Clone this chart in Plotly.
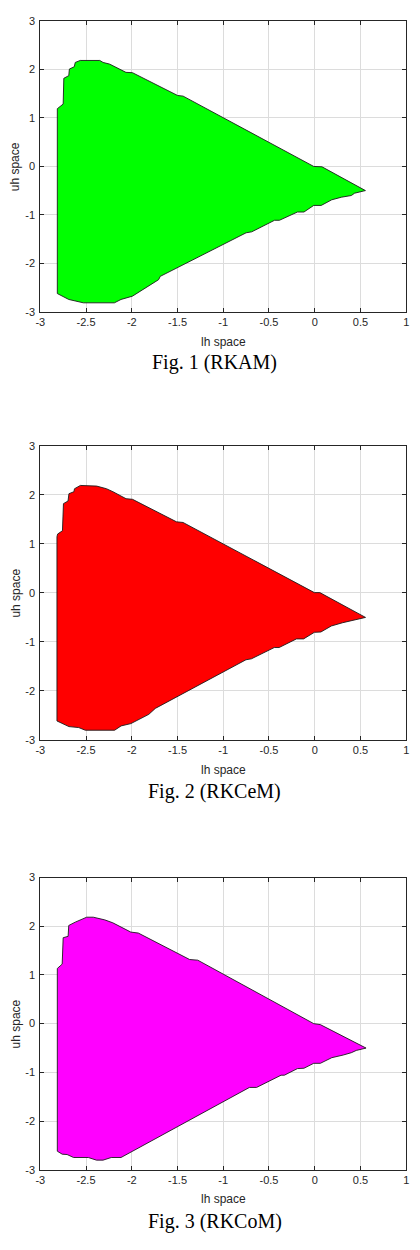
import plotly.graph_objects as go

# Region boundaries (lh, uh)
rkam_lh = [-2.814, -2.689, -2.529, -2.19, -2.118, -1.993, -1.707, -1.689, -0.75, -0.689, -0.439, -0.386,
           -0.189, -0.118, -0.011, 0.071, 0.186, 0.293, 0.4, 0.436, 0.554, 0.079, -0.011, -1.439, -1.5,
           -1.993, -2.064, -2.243, -2.314, -2.35, -2.564, -2.618, -2.629, -2.682, -2.689, -2.743, -2.75,
           -2.796, -2.814, -2.814]
rkam_uh = [-2.619, -2.741, -2.81, -2.81, -2.741, -2.673, -2.333, -2.265, -1.367, -1.347, -1.109, -1.109,
           -0.939, -0.939, -0.803, -0.803, -0.687, -0.633, -0.599, -0.551, -0.497, -0.007, 0.0, 1.449, 1.463,
           1.932, 1.939, 2.109, 2.143, 2.184, 2.184, 2.143, 2.054, 2.007, 1.871, 1.816, 1.286,
           1.204, 1.19, -2.619]

rkcem_lh = [-2.818, -2.687, -2.58, -2.508, -2.188, -2.117, -2.01, -1.814, -1.743, -0.752, -0.692, -0.442,
            -0.389, -0.2, -0.122, -0.004, 0.067, 0.181, 0.305, 0.394, 0.43, 0.555, 0.056, -0.004, -1.44,
            -1.511, -1.992, -2.063, -2.206, -2.277, -2.384, -2.562, -2.626, -2.633, -2.687, -2.697, -2.747,
            -2.758, -2.811, -2.818, -2.818]
rkcem_uh = [-2.614, -2.729, -2.749, -2.803, -2.803, -2.715, -2.668, -2.479, -2.358, -1.366, -1.346, -1.116,
            -1.116, -0.94, -0.94, -0.806, -0.799, -0.677, -0.61, -0.57, -0.543, -0.502, 0.004, 0.004, 1.435,
            1.448, 1.907, 1.92, 2.062, 2.123, 2.177, 2.19, 2.123, 2.062, 2.022, 1.873, 1.819,
            1.266, 1.198, 1.144, -2.614]

rkcom_lh = [-2.814, -2.761, -2.707, -2.636, -2.475, -2.386, -2.314, -2.225, -2.118, -0.714, -0.636, -0.368,
            -0.332, -0.189, -0.118, -0.011, 0.061, 0.186, 0.311, 0.4, 0.454, 0.561, 0.061, -0.011, -1.279,
            -1.368, -1.929, -2.011, -2.207, -2.296, -2.421, -2.493, -2.618, -2.689, -2.696, -2.75, -2.761,
            -2.807, -2.814, -2.814]
rkcom_uh = [-2.62, -2.681, -2.688, -2.749, -2.749, -2.803, -2.803, -2.749, -2.749, -1.31, -1.31, -1.059,
            -1.059, -0.923, -0.916, -0.815, -0.815, -0.699, -0.645, -0.597, -0.55, -0.502, -0.02, 0.0, 1.303,
            1.317, 1.86, 1.88, 2.07, 2.131, 2.186, 2.186, 2.084, 2.016, 1.792, 1.765, 1.222,
            1.154, 1.133, -2.62]

captions = ["Fig. 1 (RKAM)", "Fig. 2 (RKCeM)", "Fig. 3 (RKCoM)"]
fill_colors = ["#00ff00", "#ff0000", "#ff00ff"]
x_ticks = [-3, -2.5, -2, -1.5, -1, -0.5, 0, 0.5, 1]
x_tick_text = ["-3", "-2.5", "-2", "-1.5", "-1", "-0.5", "0", "0.5", "1"]
y_ticks = [-3, -2, -1, 0, 1, 2, 3]
y_tick_text = ["-3", "-2", "-1", "0", "1", "2", "3"]

series = [(rkam_lh, rkam_uh), (rkcem_lh, rkcem_uh), (rkcom_lh, rkcom_uh)]

W, H = 420, 1250
# pixel layout (top, bottom) for each axes
panels = [(15, 309), (444, 741), (880, 1175)]
cap_y = [360, 793, 1227]
xt_y = [339, 771, 1205]
x0, x1 = 36, 409

fig = go.Figure()
annotations = []
for i, ((lx, ly), col) in enumerate(zip(series, fill_colors)):
    n = "" if i == 0 else str(i + 1)
    fig.add_trace(go.Scatter(
        x=lx, y=ly, mode="lines", fill="toself", fillcolor=col,
        line=dict(color="#1b1b1b", width=0.9),
        xaxis="x" + n, yaxis="y" + n, showlegend=False, hoverinfo="skip"))
    top, bot = panels[i]
    axcommon = dict(showgrid=True, gridcolor="#dcdcdc", gridwidth=1, zeroline=False,
                    showline=True, linecolor="#262626", linewidth=1, mirror="ticks",
                    ticks="inside", ticklen=4, tickcolor="#262626",
                    tickfont=dict(family="Liberation Sans, Arial", size=11, color="#262626"))
    fig.layout["xaxis" + n] = dict(domain=[x0 / W, x1 / W], range=[-3, 1], anchor="y" + n,
                                   tickvals=x_ticks, ticktext=x_tick_text, **axcommon)
    fig.layout["yaxis" + n] = dict(domain=[1 - bot / H, 1 - top / H], range=[-3, 3], anchor="x" + n,
                                   tickvals=y_ticks, ticktext=y_tick_text, ticklabelstandoff=2, **axcommon)
    annotations.append(dict(text="lh space", x=(x0 + x1) / 2 / W, y=1 - xt_y[i] / H,
                            xref="paper", yref="paper", showarrow=False, xanchor="center", yanchor="middle",
                            font=dict(family="Liberation Sans, Arial", size=12, color="#262626")))
    annotations.append(dict(text="uh space", x=11 / W, y=1 - (top + bot) / 2 / H, textangle=-90,
                            xref="paper", yref="paper", showarrow=False, xanchor="center", yanchor="middle",
                            font=dict(family="Liberation Sans, Arial", size=12, color="#262626")))
    annotations.append(dict(text=captions[i], x=214 / W, y=1 - cap_y[i] / H,
                            xref="paper", yref="paper", showarrow=False, xanchor="center", yanchor="middle",
                            font=dict(family="Liberation Serif, Times New Roman", size=20, color="#000000")))

fig.update_layout(width=W, height=H, margin=dict(l=0, r=0, t=0, b=0),
                  paper_bgcolor="white", plot_bgcolor="white", annotations=annotations)
fig.write_html("out.html")
